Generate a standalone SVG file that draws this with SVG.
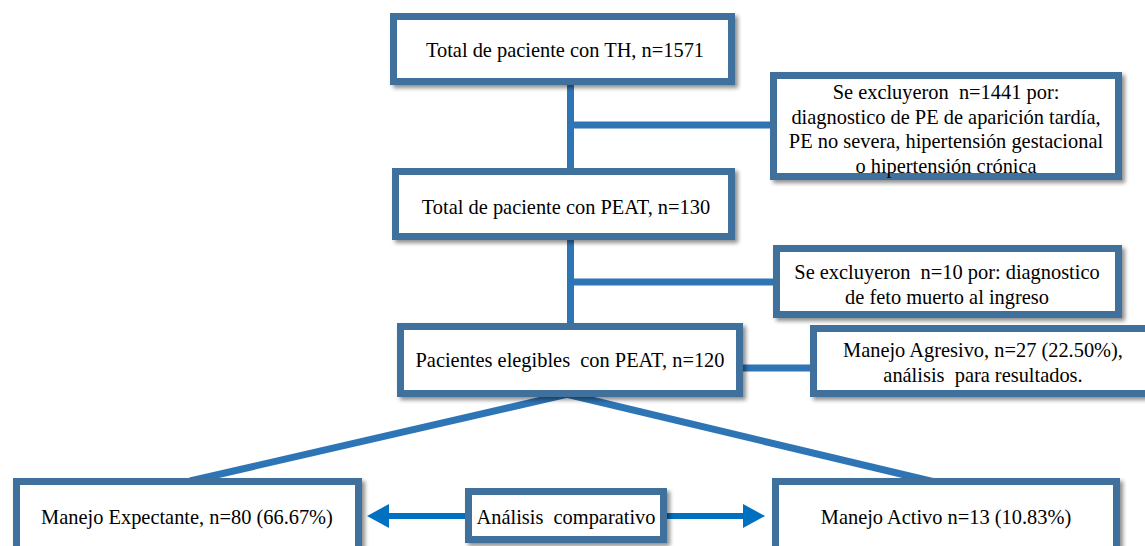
<svg xmlns="http://www.w3.org/2000/svg" width="1145" height="546" viewBox="0 0 1145 546">
<defs>
<filter id="sh" x="-10%" y="-10%" width="120%" height="130%">
<feGaussianBlur in="SourceAlpha" stdDeviation="2"/>
<feOffset dx="3" dy="3" result="b"/>
<feComponentTransfer><feFuncA type="linear" slope="0.45"/></feComponentTransfer>
<feMerge><feMergeNode/><feMergeNode in="SourceGraphic"/></feMerge>
</filter>
<marker id="ah" markerWidth="22" markerHeight="24" refX="0" refY="12" orient="auto" markerUnits="userSpaceOnUse">
<path d="M0,0 L22,12 L0,24 Z" fill="#0070C0"/>
</marker>
</defs>
<style>
.box{fill:#fff;stroke:#41719C;stroke-width:7;filter:url(#sh)}
.ln{stroke:#2E75B6;stroke-width:7;fill:none}
.ar{stroke:#0070C0;stroke-width:6;fill:none}
.t{font-size:20.4px;fill:#000;text-anchor:middle;white-space:pre}
</style>
<rect width="1145" height="546" fill="#fff"/>
<g id="connectors">
<line class="ln" x1="570.5" y1="85" x2="570.5" y2="168"/>
<line class="ln" x1="570.5" y1="240" x2="570.5" y2="323"/>
<line class="ln" x1="570" y1="125" x2="770" y2="125"/>
<line class="ln" x1="570" y1="282" x2="773" y2="282"/>
<line class="ln" x1="743" y1="368" x2="810" y2="368"/>
<line class="ln" x1="568" y1="394" x2="190" y2="481"/>
<line class="ln" x1="566" y1="394" x2="943" y2="484"/>
<line class="ar" x1="465" y1="516" x2="389" y2="516" marker-end="url(#ah)"/>
<line class="ar" x1="667" y1="516" x2="743" y2="516" marker-end="url(#ah)"/>
</g>
<g font-family="'Liberation Serif', 'Times New Roman', 'DejaVu Serif', serif">
<g id="n1"><rect class="box" x="393.5" y="16.5" width="338" height="65"/><text class="t" x="565" y="57">Total de paciente con TH, n=1571</text></g>
<g id="n2"><rect class="box" x="395.5" y="171.5" width="336" height="65"/><text class="t" x="566" y="214">Total de paciente con PEAT, n=130</text></g>
<g id="e1"><rect class="box" x="773.5" y="75.5" width="345" height="101"/>
<text class="t" x="946" y="99">Se excluyeron  n=1441 por:</text>
<text class="t" x="946" y="124">diagnostico de PE de aparición tardía,</text>
<text class="t" x="946" y="148">PE no severa, hipertensión gestacional</text>
<text class="t" x="946" y="173">o hipertensión crónica</text></g>
<g id="e2"><rect class="box" x="776.5" y="248.5" width="342" height="66"/>
<text class="t" x="947" y="279">Se excluyeron  n=10 por: diagnostico</text>
<text class="t" x="947" y="304">de feto muerto al ingreso</text></g>
<g id="n3"><rect class="box" x="400.5" y="326.5" width="339" height="67"/><text class="t" x="570" y="367">Pacientes elegibles  con PEAT, n=120</text></g>
<g id="ag"><rect class="box" x="813.5" y="328.5" width="339" height="65"/>
<text class="t" x="983" y="357">Manejo Agresivo, n=27 (22.50%),</text>
<text class="t" x="983" y="382">análisis  para resultados.</text></g>
<g id="ex"><rect class="box" x="16.5" y="481.5" width="342" height="80"/><text class="t" x="187" y="524">Manejo Expectante, n=80 (66.67%)</text></g>
<g id="an"><rect class="box" x="468.5" y="491.5" width="195" height="48"/><text class="t" x="566" y="524">Análisis  comparativo</text></g>
<g id="ac"><rect class="box" x="775.5" y="481.5" width="341" height="80"/><text class="t" x="946" y="524">Manejo Activo n=13 (10.83%)</text></g>
</g>
</svg>
